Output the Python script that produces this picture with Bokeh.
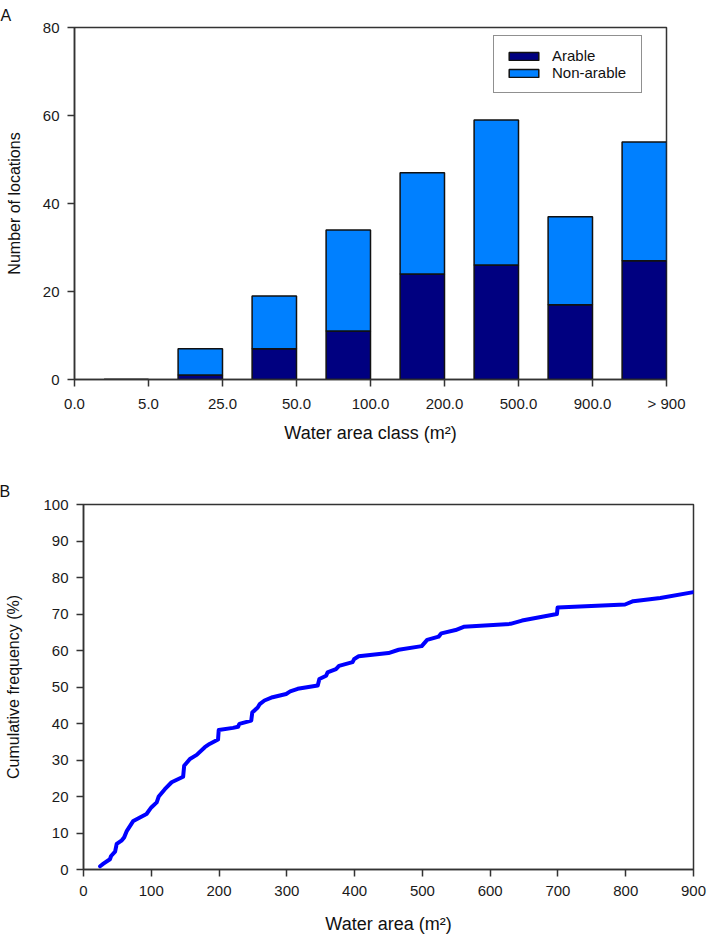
from bokeh.plotting import figure
from bokeh.layouts import column
from bokeh.models import Range1d, FixedTicker, Legend, LegendItem, ColumnDataSource
from bokeh.embed import file_html
from bokeh.resources import INLINE

# ---------------- Data ----------------
tick_labels_a = ["0.0", "5.0", "25.0", "50.0", "100.0", "200.0", "500.0", "900.0", "> 900"]
classes = ["5.0", "25.0", "50.0", "100.0", "200.0", "500.0", "900.0", "> 900"]
arable = [0, 1, 7, 11, 24, 26, 17, 27]
non_arable = [0, 6, 12, 23, 23, 33, 20, 27]

water_area = [24.5, 29.4, 39, 40.7, 46.6, 49, 56, 60, 64, 73.5, 93, 100, 108, 111, 120, 130,
              147, 148.5, 157, 167, 179, 186, 198.5, 199.5, 220.6, 228, 230, 247.5, 249, 257,
              260, 267, 279, 299, 305, 316, 345.6, 348, 358, 360, 372.5, 377, 397, 399.5, 406,
              450, 465, 499, 507, 524, 528, 549, 561, 630, 647, 698.5, 699.5, 799, 811, 851, 900]
cum_freq = [0.9, 1.6, 2.8, 3.7, 4.9, 7.0, 7.9, 8.8, 10.6, 13.3, 15.2, 17.0, 18.4, 20.0, 22.0, 23.9,
            25.4, 28.4, 30.3, 31.4, 33.5, 34.4, 35.6, 38.2, 38.8, 39.1, 39.9, 40.8, 43.0, 44.4,
            45.3, 46.3, 47.2, 48.1, 48.8, 49.5, 50.4, 52.2, 53.1, 54.0, 54.9, 55.8, 56.8, 57.7, 58.4,
            59.3, 60.2, 61.2, 62.9, 63.8, 64.7, 65.6, 66.5, 67.3, 68.2, 70.0, 71.8, 72.6, 73.5, 74.4, 76.0]

FONT = "Liberation Sans"
AX_COL = "#333333"


def style(p, xlabel_size, ylabel_size, panel_letter, title_offset, title_standoff):
    p.frame_align = False
    p.grid.visible = False
    p.outline_line_color = AX_COL
    p.outline_line_width = 1.5
    p.outline_line_alpha = 1
    for ax in (p.xaxis[0], p.yaxis[0]):
        ax.axis_line_color = AX_COL
        ax.axis_line_width = 1.5
        ax.major_tick_line_color = AX_COL
        ax.major_tick_line_width = 1.5
        ax.major_tick_in = 0
        ax.major_tick_out = 7
        ax.minor_tick_line_color = None
        ax.major_label_text_font = FONT
        ax.major_label_text_font_size = "15px"
        ax.major_label_text_color = "#1a1a1a"
        ax.axis_label_text_font = FONT
        ax.axis_label_text_font_style = "normal"
        ax.axis_label_text_color = "#111111"
    p.xaxis[0].axis_label_text_font_size = xlabel_size
    p.yaxis[0].axis_label_text_font_size = ylabel_size
    p.xaxis[0].major_label_standoff = 8
    p.yaxis[0].major_label_standoff = 8
    p.background_fill_color = "white"
    p.border_fill_color = "white"
    p.title.text = panel_letter
    p.title.align = "left"
    p.title.offset = title_offset
    p.title.standoff = title_standoff
    p.title.text_font = FONT
    p.title.text_font_size = "16px"
    p.title.text_font_style = "normal"
    p.title.text_color = "#111111"


# ---------------- Panel A ----------------
n_ticks = len(tick_labels_a)
p1 = figure(frame_width=592, frame_height=352, output_backend="svg", toolbar_location=None,
            x_range=Range1d(0, n_ticks - 1), y_range=Range1d(0, 80),
            min_border_left=74, min_border_right=43, min_border_top=27, min_border_bottom=66)
style(p1, "18px", "16px", "A", -74, 7)
p1.xaxis[0].ticker = FixedTicker(ticks=list(range(n_ticks)))
p1.xaxis[0].major_label_overrides = {i: t for i, t in enumerate(tick_labels_a)}
p1.yaxis[0].ticker = FixedTicker(ticks=[0, 20, 40, 60, 80])
p1.xaxis[0].axis_label = "Water area class (m²)"
p1.yaxis[0].axis_label = "Number of locations"
p1.xaxis[0].axis_label_standoff = 8
p1.yaxis[0].axis_label_standoff = 17

src = ColumnDataSource(dict(
    x=[i + 1 - 0.3 for i in range(len(classes))],
    cls=classes, arable=arable, non_arable=non_arable))
rs = p1.vbar_stack(["arable", "non_arable"], x="x", width=0.6, source=src,
                   color=["#000080", "#0080FF"], line_color="#111111", line_width=1.5)

legend = Legend(items=[LegendItem(label="Arable", renderers=[rs[0]]),
                       LegendItem(label="Non-arable", renderers=[rs[1]])],
                location=(419, 286))
legend.border_line_color = "#222222"
legend.border_line_width = 1
legend.background_fill_color = "white"
legend.background_fill_alpha = 1
legend.label_text_font = FONT
legend.label_text_font_size = "15px"
legend.label_text_color = "#111111"
legend.glyph_width = 37
legend.glyph_height = 10
legend.label_standoff = 10
legend.label_height = 16
legend.label_width = 78
legend.spacing = 0
legend.padding = 11
legend.margin = 0
p1.add_layout(legend, "center")

# ---------------- Panel B ----------------
p2 = figure(frame_width=610, frame_height=365, output_backend="svg", toolbar_location=None,
            x_range=Range1d(0, 900), y_range=Range1d(0, 100),
            min_border_left=83, min_border_right=16, min_border_top=59, min_border_bottom=69)
style(p2, "18px", "16px", "B", -84, 9)
p2.xaxis[0].ticker = FixedTicker(ticks=list(range(0, 901, 100)))
p2.yaxis[0].ticker = FixedTicker(ticks=list(range(0, 101, 10)))
p2.xaxis[0].axis_label = "Water area (m²)"
p2.yaxis[0].axis_label = "Cumulative frequency (%)"
p2.xaxis[0].major_label_standoff = 9
p2.xaxis[0].axis_label_standoff = 15
p2.yaxis[0].axis_label_standoff = 18

p2.line(water_area, cum_freq, line_color="#0000FF", line_width=4, line_join="round", line_cap="round")

layout = column(p1, p2, spacing=0)
open("out.html", "w").write(file_html(layout, INLINE))
